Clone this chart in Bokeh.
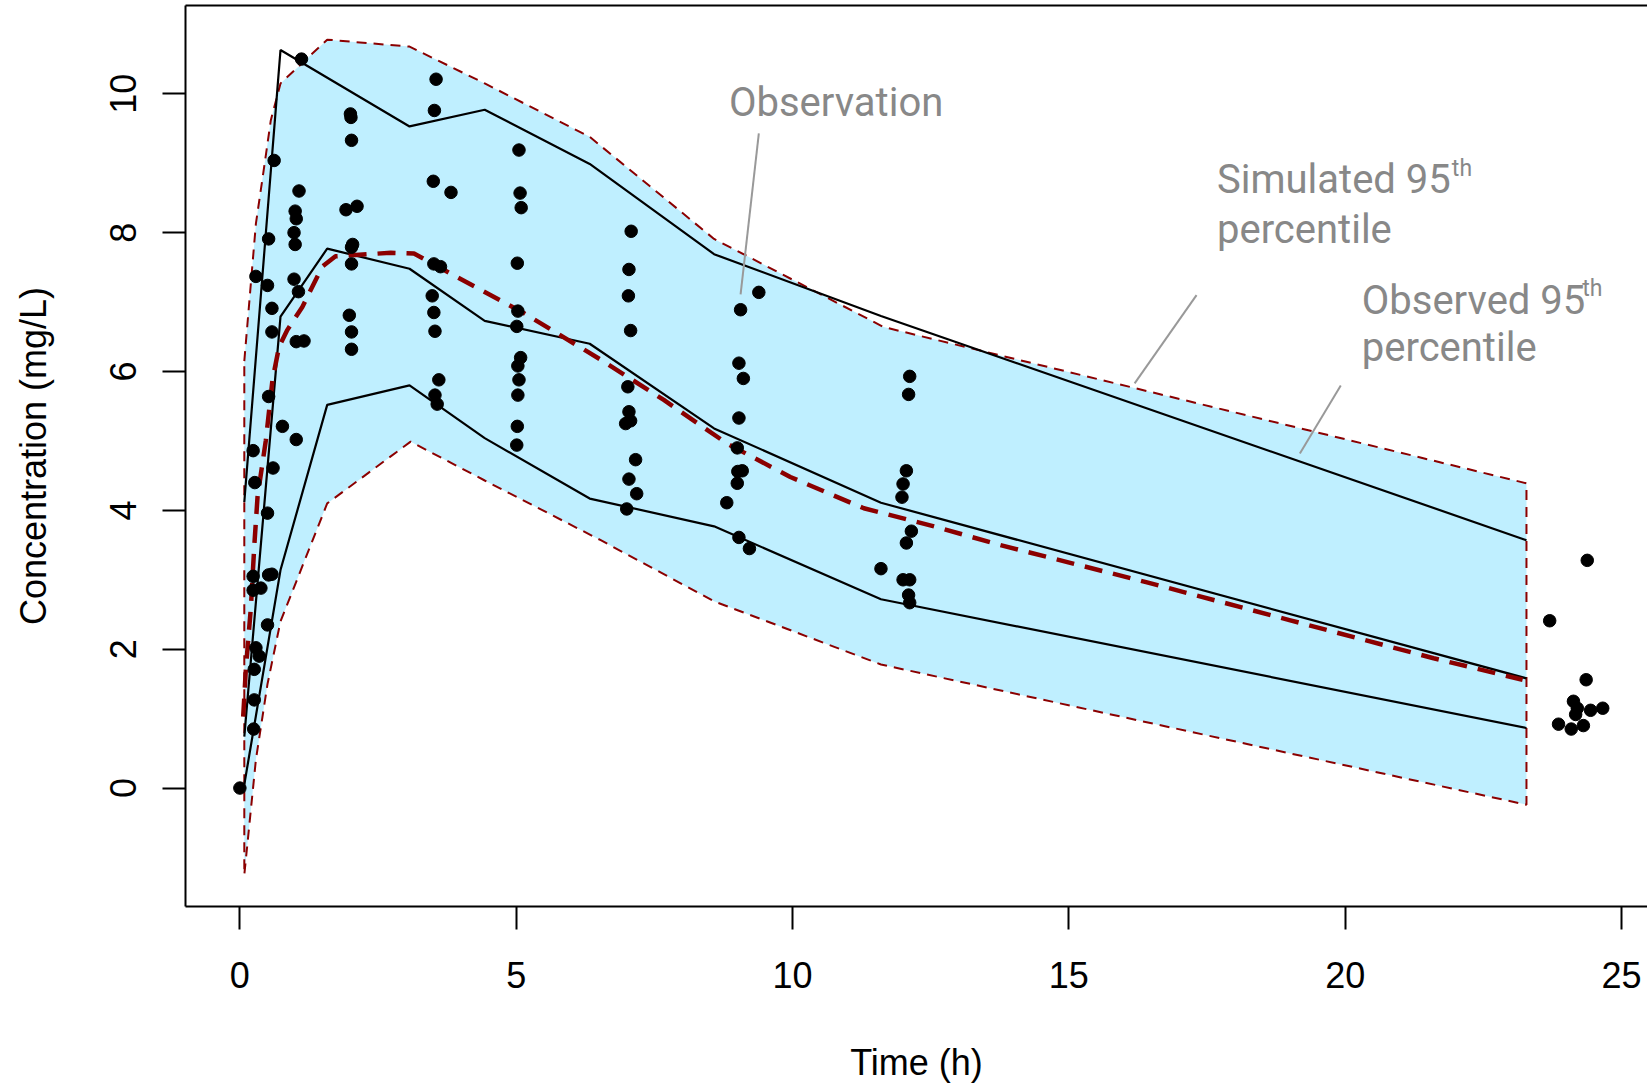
from bokeh.plotting import figure
from bokeh.models import LinearAxis, FixedTicker, Range1d
from bokeh.core.properties import value
from bokeh.embed import file_html
from bokeh.resources import INLINE

# ---------------- data ----------------
# observed concentrations
obs_time = [0.0,
            0.24, 0.27, 0.29, 0.24, 0.24, 0.38, 0.29, 0.35, 0.26, 0.26, 0.25,
            0.52, 0.50, 0.58, 0.58, 0.62, 0.52, 0.60, 0.50, 0.52, 0.58, 0.50, 0.77, 1.115,
            1.07, 1.00, 1.02, 0.98, 1.00, 0.98, 1.06, 1.02, 1.16, 1.02,
            2.00, 2.01, 2.02, 1.92, 2.12, 2.04, 2.02, 2.02, 1.98, 2.02, 2.02,
            3.55, 3.52, 3.50, 3.82, 3.51, 3.63, 3.48, 3.51, 3.53, 3.60, 3.53, 3.57,
            5.05, 5.07, 5.09, 5.02, 5.03, 5.01, 5.08, 5.03, 5.05, 5.03, 5.02, 5.01,
            7.08, 7.04, 7.03, 7.07, 7.02, 7.04, 7.07, 6.98, 7.16, 7.04, 7.18, 7.00,
            9.39, 9.06, 9.03, 9.11, 9.03, 9.00, 9.01, 9.09, 9.00, 8.81, 9.03, 9.22,
            12.12, 12.10, 12.06, 12.00, 11.98, 12.15, 12.06, 11.60, 12.00, 12.12, 12.10, 12.12,
            24.38, 23.70, 24.36, 24.13, 24.20, 24.17, 24.44, 24.66, 23.86, 24.09, 24.31]
obs_conc = [0.0,
            4.86, 4.40, 7.37, 3.05, 2.85, 2.88, 2.02, 1.90, 1.71, 1.27, 0.85,
            7.91, 7.24, 6.91, 6.57, 9.04, 5.64, 4.61, 3.96, 3.07, 3.08, 2.35, 5.21, 10.50,
            8.60, 8.31, 8.20, 8.00, 7.83, 7.33, 7.15, 6.43, 6.44, 5.02,
            9.71, 9.66, 9.33, 8.33, 8.38, 7.83, 7.79, 7.55, 6.81, 6.57, 6.32,
            10.21, 9.76, 8.74, 8.58, 7.55, 7.51, 7.09, 6.85, 6.58, 5.88, 5.66, 5.53,
            9.19, 8.57, 8.36, 7.56, 6.87, 6.65, 6.20, 6.08, 5.88, 5.66, 5.21, 4.94,
            8.02, 7.47, 7.09, 6.59, 5.78, 5.42, 5.29, 5.25, 4.73, 4.45, 4.24, 4.02,
            7.14, 6.89, 6.12, 5.90, 5.33, 4.90, 4.56, 4.57, 4.39, 4.11, 3.61, 3.45,
            5.93, 5.67, 4.57, 4.38, 4.19, 3.70, 3.53, 3.16, 3.00, 3.00, 2.78, 2.67,
            3.28, 2.41, 1.56, 1.25, 1.15, 1.06, 1.12, 1.15, 0.92, 0.85, 0.90]

# simulated prediction band (thin dashed outline, light-blue fill)
band_upper_time = [0.08, 0.29, 0.44, 0.56, 0.735, 1.58, 3.07, 4.43, 6.33, 8.58, 11.65, 23.28]
band_upper_conc = [6.15, 8.13, 8.95, 9.62, 10.15, 10.78, 10.68, 10.15, 9.38, 7.91, 6.64, 4.39]
band_lower_time = [0.08, 0.29, 0.50, 0.735, 1.58, 3.09, 4.43, 6.53, 8.58, 11.60, 23.28]
band_lower_conc = [-1.25, 0.41, 1.50, 2.40, 4.10, 4.99, 4.43, 3.57, 2.69, 1.78, -0.24]

# observed percentiles (solid black)
p95_time = [0.08, 0.735, 3.07, 4.43, 6.33, 8.58, 11.6, 23.28]
p95_conc = [4.12, 10.63, 9.53, 9.77, 8.99, 7.69, 6.80, 3.57]
p50_time = [0.08, 0.735, 1.58, 3.07, 4.43, 6.33, 8.58, 11.6, 23.28]
p50_conc = [0.74, 6.79, 7.77, 7.48, 6.73, 6.40, 5.18, 4.11, 1.58]
p05_time = [0.08, 0.735, 1.58, 3.07, 4.43, 6.33, 8.58, 11.6, 23.28]
p05_conc = [0.05, 3.14, 5.52, 5.80, 5.04, 4.17, 3.77, 2.72, 0.865]

# median curve (thick dashed dark red)
med_time = [0.06, 0.107, 0.20, 0.26, 0.32, 0.47, 0.59, 0.71, 0.86, 1.13, 1.49, 1.73,
            2.73, 3.15, 3.93, 5.14, 6.53, 7.67, 8.82, 9.96, 11.29, 12.56, 13.76,
            16.38, 18.99, 21.6, 23.21]
med_conc = [1.03, 1.70, 2.61, 3.48, 4.20, 5.01, 5.88, 6.36, 6.60, 6.93, 7.51, 7.66,
            7.71, 7.70, 7.36, 6.84, 6.17, 5.59, 4.96, 4.48, 4.03, 3.77, 3.50,
            2.97, 2.42, 1.87, 1.56]

# annotations
ann_text = ["Observation", "Simulated 95", "percentile", "Observed 95", "percentile"]
ann_x = [8.85, 17.68, 17.68, 20.30, 20.30]
ann_y = [9.88, 8.77, 8.05, 7.03, 6.34]
sup_text = ["th", "th"]
sup_x = [21.93, 24.29]
sup_y = [8.93, 7.20]
lead_x0 = [9.39, 17.31, 19.92]
lead_y0 = [9.43, 7.10, 5.80]
lead_x1 = [9.06, 16.19, 19.18]
lead_y1 = [7.11, 5.83, 4.82]

x_ticks = [0, 5, 10, 15, 20, 25]
y_ticks = [0, 2, 4, 6, 8, 10]

# ---------------- figure ----------------
AXF = "Liberation Sans"
p = figure(width=1647, height=1085,
           x_range=Range1d(-0.984, 25.47), y_range=Range1d(-1.706, 11.272),
           output_backend="svg", toolbar_location=None,
           min_border_left=185, min_border_right=0, min_border_top=5, min_border_bottom=178)
p.grid.visible = False
p.outline_line_color = None
p.background_fill_color = "white"
p.border_fill_color = "white"

for ax in (p.xaxis[0], p.yaxis[0]):
    ax.axis_line_color = "black"
    ax.axis_line_width = 2
    ax.major_tick_line_color = "black"
    ax.major_tick_line_width = 2
    ax.major_tick_in = 0
    ax.major_tick_out = 23
    ax.minor_tick_line_color = None
    ax.major_label_text_font = AXF
    ax.major_label_text_font_size = "36px"
    ax.major_label_text_color = "black"
    ax.axis_label_text_font = AXF
    ax.axis_label_text_font_size = "36px"
    ax.axis_label_text_font_style = "normal"
    ax.axis_label_text_color = "black"

p.xaxis.ticker = FixedTicker(ticks=x_ticks)
p.yaxis.ticker = FixedTicker(ticks=y_ticks)
p.xaxis.axis_label = "Time (h)"
p.yaxis.axis_label = "Concentration (mg/L)"
p.xaxis.major_label_standoff = 32
p.xaxis.axis_label_standoff = 51
p.yaxis.major_label_standoff = 26
p.yaxis.axis_label_standoff = 54
p.yaxis.major_label_orientation = "vertical"

top_axis = LinearAxis(ticker=FixedTicker(ticks=[]), major_label_text_font_size="0px",
                      major_tick_in=0, major_tick_out=0, minor_tick_in=0, minor_tick_out=0,
                      major_label_standoff=0, axis_line_color="black", axis_line_width=2)
p.add_layout(top_axis, "above")

DARKRED = "#8B0000"
band_x = band_upper_time + band_lower_time[::-1]
band_y = band_upper_conc + band_lower_conc[::-1]
p.patch(band_x, band_y, fill_color="#BFEFFF", line_color=DARKRED,
        line_width=2, line_dash="10 7")

for t, c in ((p95_time, p95_conc), (p50_time, p50_conc), (p05_time, p05_conc)):
    p.line(t, c, line_color="black", line_width=2.2)

p.line(med_time, med_conc, line_color=DARKRED, line_width=4.5, line_dash="18 11")

p.scatter(obs_time, obs_conc, size=12.5, fill_color="black", line_color="black")

p.segment(x0=lead_x0, y0=lead_y0, x1=lead_x1, y1=lead_y1, line_color="#999999", line_width=2)

p.text(x=ann_x, y=ann_y, text=ann_text, text_font=value("Roboto"),
       text_font_size=value("40px"), text_color="#888888",
       text_align="left", text_baseline="alphabetic")
p.text(x=sup_x, y=sup_y, text=sup_text, text_font=value("Roboto"),
       text_font_size=value("23px"), text_color="#888888",
       text_align="left", text_baseline="alphabetic")

open("out.html", "w").write(file_html(p, INLINE))
